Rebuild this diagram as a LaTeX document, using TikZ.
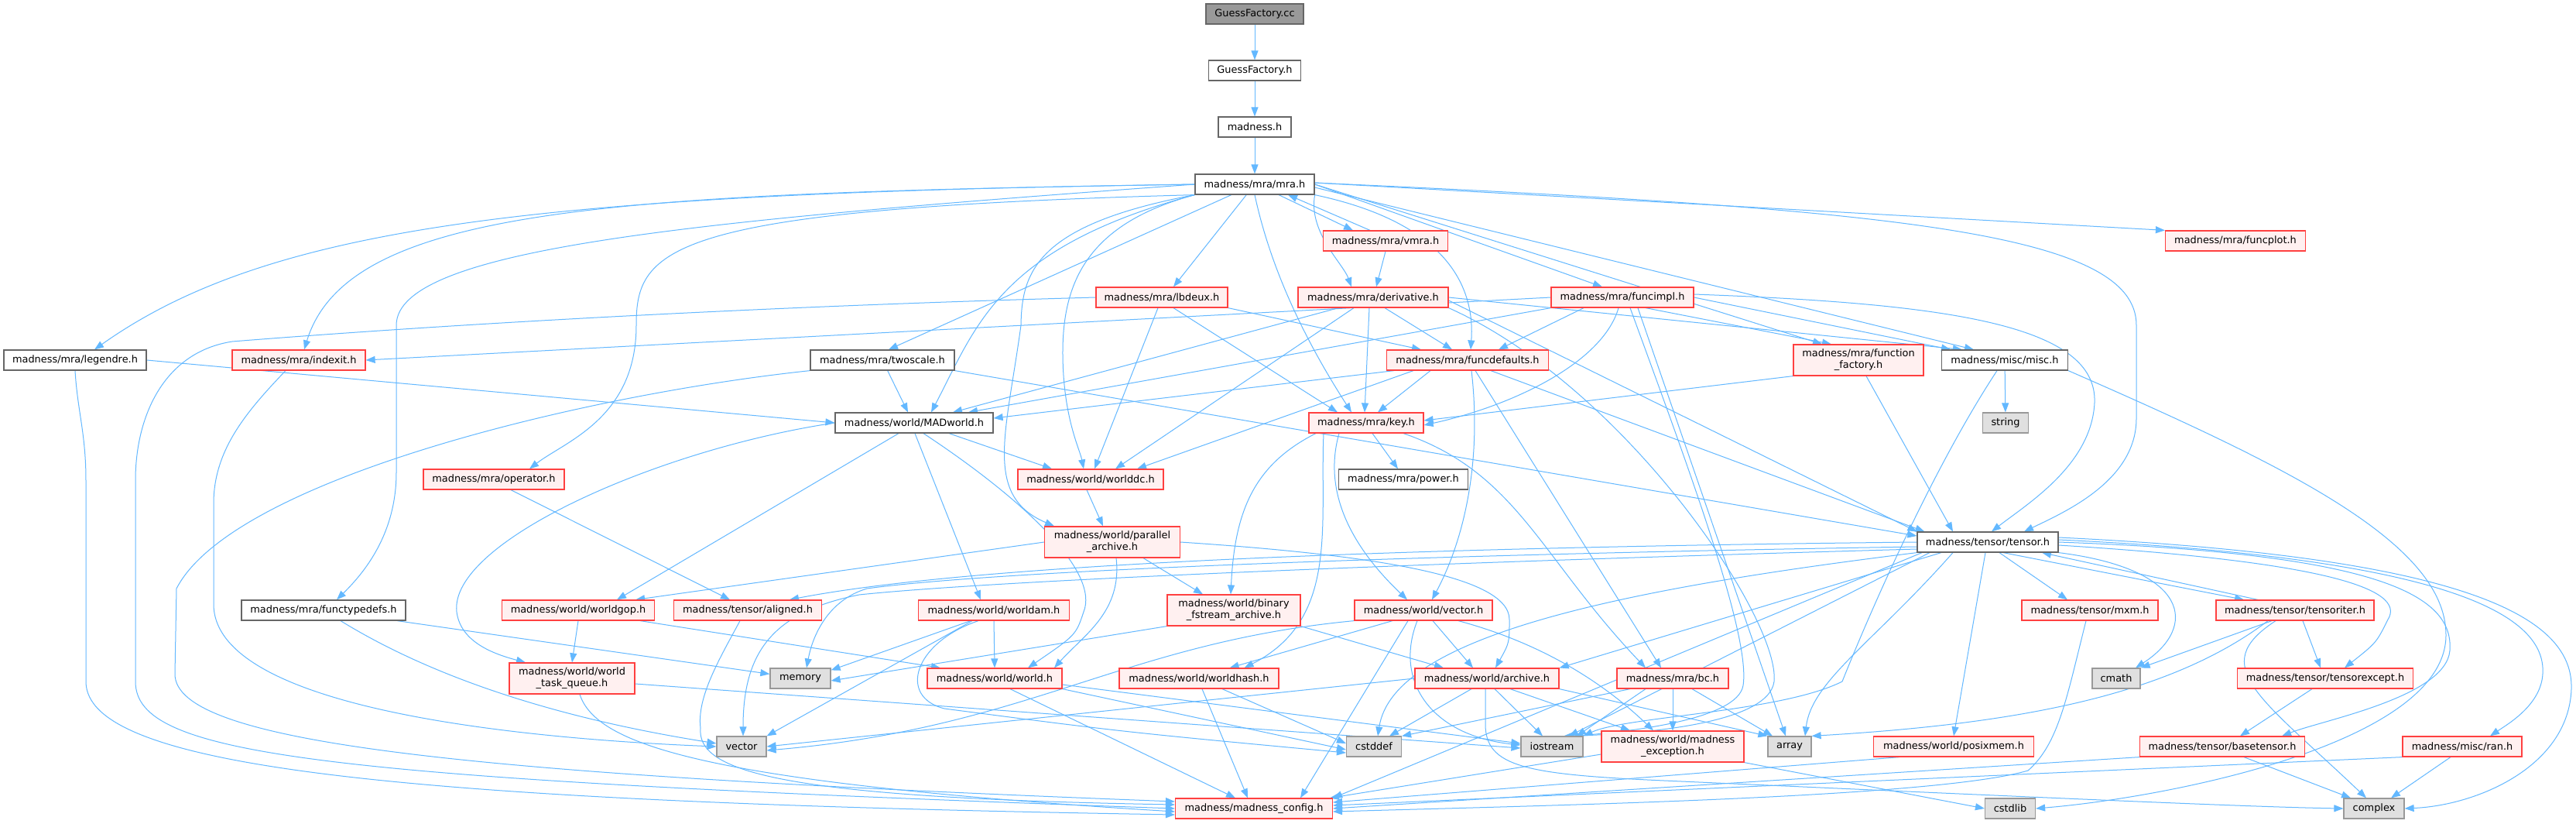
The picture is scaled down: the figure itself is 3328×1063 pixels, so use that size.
\documentclass[tikz,border=0pt]{standalone}
\usepackage{fontspec}
\setmainfont{DejaVu Sans}
\usetikzlibrary{arrows.meta}
\definecolor{ecol}{HTML}{63B8FF}
\definecolor{dred}{HTML}{FF4040}
\definecolor{rfill}{HTML}{FFF0F0}
\definecolor{dgray}{HTML}{666666}
\definecolor{lgray}{HTML}{999999}
\definecolor{gfill}{HTML}{E0E0E0}
\definecolor{rootfill}{HTML}{999999}
\pgfdeclarelayer{bg}
\pgfsetlayers{bg,main}
\newcommand{\nodefont}{\fontsize{12.9pt}{15pt}\selectfont}
\tikzset{
  box/.style={draw, line width=1.2pt, inner sep=0pt, minimum height=26pt, font=\nodefont, align=center},
  rn/.style={box, draw=dred, fill=rfill},
  rn2/.style={rn, minimum height=40pt},
  wn/.style={box, draw=dgray, fill=white},
  gn/.style={box, draw=lgray, fill=gfill},
  root/.style={box, draw=dgray, fill=rootfill},
  e/.style={draw=ecol, line width=1pt, -{Triangle[length=12pt,width=9pt]}},
}
\begin{document}
\begin{tikzpicture}[x=1pt,y=-1pt]
\useasboundingbox (0,0) rectangle (3328,1063);
\begin{pgfonlayer}{bg}
\fill[white] (0,0) rectangle (3328,1063);
\end{pgfonlayer}
% nodes
\node[root, minimum width=126pt] (gcc) at (1621,18) {GuessFactory.cc};
\node[wn, minimum width=119pt] (gfh) at (1621,91) {GuessFactory.h};
\node[wn, minimum width=94pt] (madh) at (1621,164) {madness.h};
\node[wn, minimum width=154pt] (mra) at (1621,238) {madness/mra/mra.h};
\node[rn, minimum width=161pt] (vmra) at (1790,311) {madness/mra/vmra.h};
\node[rn, minimum width=181pt] (funcplot) at (2888,311) {madness/mra/funcplot.h};
\node[rn, minimum width=170pt] (lbdeux) at (1501,384) {madness/mra/lbdeux.h};
\node[rn, minimum width=194pt] (deriv) at (1774,384) {madness/mra/derivative.h};
\node[rn, minimum width=184pt] (funcimpl) at (2096,384) {madness/mra/funcimpl.h};
\node[wn, minimum width=184pt] (legendre) at (97,465) {madness/mra/legendre.h};
\node[rn, minimum width=172pt] (indexit) at (386,465) {madness/mra/indexit.h};
\node[wn, minimum width=186pt] (twoscale) at (1140,465) {madness/mra/twoscale.h};
\node[rn, minimum width=209pt] (funcdef) at (1896,465) {madness/mra/funcdefaults.h};
\node[rn2, minimum width=168pt] (funcfact) at (2401,465) {madness/mra/function\\\_factory.h};
\node[wn, minimum width=163pt] (misc) at (2590,465) {madness/misc/misc.h};
\node[wn, minimum width=204pt] (madworld) at (1181,546) {madness/world/MADworld.h};
\node[rn, minimum width=148pt] (key) at (1765,546) {madness/mra/key.h};
\node[gn, minimum width=59pt] (string) at (2591,546) {string};
\node[rn, minimum width=182pt] (operator) at (638,619) {madness/mra/operator.h};
\node[rn, minimum width=188pt] (worlddc) at (1409,619) {madness/world/worlddc.h};
\node[wn, minimum width=167pt] (power) at (1813,619) {madness/mra/power.h};
\node[rn2, minimum width=175pt] (parallel) at (1437,700) {madness/world/parallel\\\_archive.h};
\node[wn, minimum width=182pt] (tensor) at (2568,700) {madness/tensor/tensor.h};
\node[wn, minimum width=212pt] (functypedefs) at (418,788) {madness/mra/functypedefs.h};
\node[rn, minimum width=197pt] (worldgop) at (747,788) {madness/world/worldgop.h};
\node[rn, minimum width=191pt] (aligned) at (966,788) {madness/tensor/aligned.h};
\node[rn, minimum width=195pt] (worldam) at (1284,788) {madness/world/worldam.h};
\node[rn2, minimum width=172pt] (binfs) at (1594,788) {madness/world/binary\\\_fstream\_archive.h};
\node[rn, minimum width=178pt] (wvector) at (1839,788) {madness/world/vector.h};
\node[rn, minimum width=176pt] (mxm) at (2700,788) {madness/tensor/mxm.h};
\node[rn, minimum width=204pt] (tensoriter) at (2965,788) {madness/tensor/tensoriter.h};
\node[rn2, minimum width=162pt] (wtq) at (739,876) {madness/world/world\\\_task\_queue.h};
\node[gn, minimum width=78pt] (memory) at (1034,876) {memory};
\node[rn, minimum width=174pt] (world) at (1285,876) {madness/world/world.h};
\node[rn, minimum width=206pt] (worldhash) at (1549,876) {madness/world/worldhash.h};
\node[rn, minimum width=186pt] (archive) at (1921,876) {madness/world/archive.h};
\node[rn, minimum width=144pt] (bc) at (2161,876) {madness/mra/bc.h};
\node[gn, minimum width=62pt] (cmath) at (2734,876) {cmath};
\node[rn, minimum width=227pt] (tensorexcept) at (3004,876) {madness/tensor/tensorexcept.h};
\node[gn, minimum width=64pt] (vector) at (958,964) {vector};
\node[gn, minimum width=71pt] (cstddef) at (1775,964) {cstddef};
\node[gn, minimum width=80pt] (iostream) at (2005,964) {iostream};
\node[rn2, minimum width=184pt] (mexc) at (2161,964) {madness/world/madness\\\_exception.h};
\node[gn, minimum width=56pt] (array) at (2312,964) {array};
\node[rn, minimum width=207pt] (posixmem) at (2524,964) {madness/world/posixmem.h};
\node[rn, minimum width=213pt] (basetensor) at (2871,964) {madness/tensor/basetensor.h};
\node[rn, minimum width=154pt] (ran) at (3181,964) {madness/misc/ran.h};
\node[rn, minimum width=203pt] (config) at (1620,1044) {madness/madness\_config.h};
\node[gn, minimum width=65pt] (cstdlib) at (2597,1044) {cstdlib};
\node[gn, minimum width=78pt] (complex) at (3067,1044) {complex};
% edges
\begin{pgfonlayer}{bg}
\draw[e] (gcc) -- (gfh);
\draw[e] (gfh) -- (madh);
\draw[e] (madh) -- (mra);
% mra
\draw[e] ([xshift=31pt]mra.south) -- ([xshift=-42pt]vmra.north);
\draw[e] ([xshift=-20pt]vmra.north) -- ([xshift=43pt]mra.south);
\draw[e] ([yshift=2pt]mra.east) -- (funcplot.north west);
\draw[e] (mra) -- ([xshift=15pt]lbdeux.north);
\draw[e] (mra.south east) .. controls (1690,300) and (1735,340) .. ([xshift=-28pt]deriv.north);
\draw[e] (vmra.south) -- ([xshift=4pt]deriv.north);
\draw[e] (mra.east) -- ([xshift=-26pt]funcimpl.north);
\draw[e] (mra.west) .. controls (700,250) and (350,290) .. ([xshift=25pt]legendre.north);
\draw[e] (mra.west) .. controls (800,250) and (450,265) .. ([xshift=7pt]indexit.north);
\draw[e] (mra) -- ([xshift=8pt]twoscale.north);
\draw[e] (mra.south east) .. controls (1880,290) and (1905,380) .. ([xshift=4pt]funcdef.north);
\draw[e] (mra.east) -- ([xshift=-47pt]funcfact.north);
\draw[e] ([yshift=-4pt]mra.east) -- ([xshift=-40pt]misc.north);
\draw[e] (mra.south west) .. controls (1290,320) and (1262,420) .. ([xshift=22pt]madworld.north);
\draw[e] (mra.south) .. controls (1640,340) and (1680,430) .. ([xshift=-19pt]key.north);
\draw[e] (mra.south west) .. controls (860,270) and (822,320) .. (822,420) .. controls (822,540) and (730,570) .. ([xshift=46pt]operator.north);
\draw[e] (mra.south west) .. controls (1400,290) and (1372,370) .. (1373,460) .. controls (1374,540) and (1395,580) .. ([xshift=-9pt]worlddc.north);
\draw[e] (mra.south west) .. controls (1340,290) and (1320,350) .. (1319,420) .. controls (1300,560) and (1270,640) .. ([xshift=-75pt]parallel.north);
\draw[e] ([yshift=2pt]mra.east) .. controls (2450,270) and (2760,300) .. (2760,420) -- (2760,540) .. controls (2760,620) and (2670,660) .. ([xshift=47pt]tensor.north);
\draw[e] (mra.west) .. controls (900,285) and (512,320) .. (512,420) -- (512,610) .. controls (512,690) and (470,740) .. ([xshift=17pt]functypedefs.north);
% legendre
\draw[e] (legendre.east) -- (madworld.west);
\draw[e] (legendre.south) .. controls (100,530) and (111,560) .. (111,620) -- (111,880) .. controls (111,990) and (500,1035) .. ([yshift=-8pt]config.west);
% indexit
\draw[e] ([xshift=-17pt]indexit.south) .. controls (320,530) and (276,580) .. (276,650) -- (276,780) .. controls (276,920) and (700,955) .. (vector.west);
% twoscale
\draw[e] (twoscale) -- ([xshift=-8pt]madworld.north);
\draw[e] (twoscale.south east) -- ([yshift=8pt]tensor.west);
\draw[e] (twoscale.south west) .. controls (750,510) and (300,620) .. (228,760) -- (226,870) .. controls (225,960) and (600,1000) .. ([yshift=9pt]config.west);
% lbdeux
\draw[e] ([xshift=-5pt]lbdeux.south) -- ([xshift=5pt]worlddc.north);
\draw[e] ([xshift=15pt]lbdeux.south) -- ([xshift=-37pt]key.north);
\draw[e] (lbdeux.south east) -- ([xshift=-60pt]funcdef.north);
\draw[e] (lbdeux.west) .. controls (900,398) and (500,425) .. (300,441) .. controls (210,455) and (175,540) .. (175,620) -- (175,880) .. controls (175,975) and (400,1005) .. (config.west);
% derivative
\draw[e] ([xshift=15pt]deriv.south) -- ([xshift=-20pt]funcdef.north);
\draw[e] ([xshift=-5pt]deriv.south) -- ([xshift=-2pt]key.north);
\draw[e] ([xshift=-45pt]deriv.south) -- ([xshift=50pt]madworld.north);
\draw[e] ([xshift=-25pt]deriv.south) -- ([xshift=32pt]worlddc.north);
\draw[e] (deriv.east) -- ([xshift=-55pt]misc.north);
\draw[e] ([yshift=-4pt]deriv.east) -- (tensor.north west);
\draw[e] (deriv.south east) .. controls (2100,500) and (2300,800) .. (2292,880) .. controls (2285,935) and (2120,948) .. ([xshift=15pt]iostream.north);
% funcimpl
\draw[e] (funcimpl.west) -- (indexit.east);
\draw[e] (funcimpl.south west) -- ([xshift=70pt]madworld.north);
\draw[e] ([xshift=-50pt]funcimpl.south) -- ([xshift=40pt]funcdef.north);
\draw[e] ([xshift=-5pt]funcimpl.south) .. controls (2070,470) and (1950,525) .. ([yshift=-3pt]key.east);
\draw[e] ([xshift=30pt]funcimpl.south) -- ([xshift=-35pt]funcfact.north);
\draw[e] (funcimpl.east) -- ([xshift=-70pt]misc.north);
\draw[e] ([yshift=4pt]funcimpl.east) .. controls (2520,392) and (2710,420) .. (2706,520) .. controls (2702,600) and (2620,650) .. ([xshift=5pt]tensor.north);
\draw[e] ([xshift=10pt]funcimpl.south) .. controls (2180,600) and (2262,820) .. (2252,885) .. controls (2245,930) and (2100,945) .. ([xshift=28pt]iostream.north);
\draw[e] ([xshift=20pt]funcimpl.south) -- ([xshift=-5pt]array.north);
% funcdefaults
\draw[e] ([xshift=-95pt]funcdef.south) -- ([yshift=6pt]madworld.east);
\draw[e] ([xshift=-70pt]funcdef.south) -- ([xshift=60pt]worlddc.north);
\draw[e] ([xshift=-48pt]funcdef.south) -- ([xshift=15pt]key.north);
\draw[e] ([xshift=30pt]funcdef.south) -- ([xshift=10pt]tensor.north west);
\draw[e] ([xshift=10pt]funcdef.south) -- ([xshift=-15pt]bc.north);
\draw[e] ([xshift=5pt]funcdef.south) .. controls (1915,600) and (1890,700) .. ([xshift=11pt]wvector.north);
% function_factory
\draw[e] (funcfact.south west) -- ([yshift=3pt]key.east);
\draw[e] ([xshift=10pt]funcfact.south) -- ([xshift=-45pt]tensor.north);
% misc
\draw[e] (misc) -- (string);
\draw[e] ([xshift=-10pt]misc.south) .. controls (2500,600) and (2420,780) .. (2380,880) .. controls (2300,920) and (2100,925) .. (iostream.north east);
\draw[e] (misc.south east) .. controls (2950,600) and (3160,700) .. (3160,820) .. controls (3160,960) and (2800,1030) .. (cstdlib.east);
% MADworld
\draw[e] ([xshift=45pt]madworld.south) -- ([xshift=-50pt]worlddc.north);
\draw[e] ([xshift=-20pt]madworld.south) -- ([xshift=50pt]worldgop.north);
\draw[e] (madworld.west) .. controls (850,580) and (580,700) .. (590,790) .. controls (595,830) and (640,845) .. ([xshift=-60pt]wtq.north);
\draw[e] ([xshift=1pt]madworld.south) -- ([xshift=-17pt]worldam.north);
\draw[e] ([xshift=12pt]madworld.south) .. controls (1330,650) and (1420,740) .. (1400,790) .. controls (1390,820) .. ([xshift=43pt]world.north);
% key
\draw[e] ([xshift=8pt]key.south) -- ([xshift=-7pt]power.north);
\draw[e] ([xshift=-35pt]key.south) .. controls (1710,630) and (1740,700) .. ([xshift=-21pt]wvector.north);
\draw[e] ([xshift=-55pt]key.south) .. controls (1705,680) and (1730,800) .. ([xshift=-45pt]worldhash.north east);
\draw[e] ([xshift=-65pt]key.south) .. controls (1620,600) and (1595,660) .. ([xshift=-4pt]binfs.north);
\draw[e] ([xshift=48pt]key.south) .. controls (1960,610) and (1990,720) .. ([xshift=-35pt]bc.north);
% operator, worlddc, parallel
\draw[e] ([xshift=22pt]operator.south) -- ([xshift=-23pt]aligned.north);
\draw[e] ([xshift=-5pt]worlddc.south) -- ([xshift=-12pt]parallel.north);
\draw[e] (parallel.west) -- ([xshift=-25pt]worldgop.north east);
\draw[e] ([xshift=40pt]parallel.south) -- ([xshift=-40pt]binfs.north);
\draw[e] ([xshift=5pt]parallel.south) .. controls (1450,790) and (1400,820) .. ([xshift=77pt]world.north);
\draw[e] (parallel.east) .. controls (1750,715) and (1950,740) .. (1950,800) .. controls (1950,830) .. ([xshift=11pt]archive.north);
% tensor
\draw[e] (tensor.west) .. controls (2000,705) and (1300,720) .. ([xshift=54pt]aligned.north);
\draw[e] ([yshift=-6pt]tensor.west) .. controls (1900,715) and (1300,735) .. (1120,760) .. controls (1070,775) and (1050,820) .. ([xshift=8pt]memory.north);
\draw[e] ([yshift=-9pt]tensor.west) .. controls (1900,725) and (1300,748) .. (1110,768) .. controls (1000,790) and (960,840) .. ([xshift=2pt]vector.north);
\draw[e] ([xshift=-60pt]tensor.south) -- (archive.north east);
\draw[e] ([xshift=15pt]tensor.south) -- ([xshift=-29pt]mxm.north);
\draw[e] ([xshift=20pt]tensor.south) -- ([xshift=-66pt]tensoriter.north);
\draw[e] ([xshift=-48pt]tensoriter.north) -- ([xshift=70pt]tensor.south);
\draw[e] (tensor.south east) .. controls (2830,735) and (2840,810) .. ([xshift=25pt]cmath.north);
\draw[e] ([yshift=-4pt]tensor.east) .. controls (3000,725) and (3110,760) .. (3085,800) .. controls (3070,830) .. ([xshift=25pt]tensorexcept.north);
\draw[e] (tensor.east) .. controls (3080,715) and (3170,770) .. (3165,840) .. controls (3160,900) and (3000,930) .. ([xshift=-30pt]basetensor.north east);
\draw[e] ([yshift=3pt]tensor.east) .. controls (3150,720) and (3290,790) .. (3285,870) .. controls (3283,910) and (3240,935) .. ([xshift=36pt]ran.north);
\draw[e] ([yshift=6pt]tensor.east) .. controls (3200,720) and (3325,800) .. (3322,890) .. controls (3318,990) and (3200,1040) .. (complex.east);
\draw[e] ([xshift=-3pt]tensor.south) -- (posixmem.north);
\draw[e] ([xshift=-45pt]tensor.south) .. controls (2420,830) and (2340,880) .. ([xshift=20pt]array.north);
\draw[e] ([xshift=-75pt]tensor.south) -- ([xshift=22pt]iostream.north);
\draw[e] (tensor.south west) .. controls (2100,760) and (1800,820) .. ([xshift=5pt]cstddef.north);
\draw[e] ([xshift=-85pt]tensor.south) -- (config.north east);
% tensoriter
\draw[e] ([xshift=-30pt]tensoriter.south) -- (cmath.north east);
\draw[e] ([xshift=10pt]tensoriter.south) -- ([xshift=-6pt]tensorexcept.north);
\draw[e] ([xshift=-25pt]tensoriter.south) .. controls (2850,860) and (2920,900) .. ([xshift=-10pt]complex.north);
\draw[e] ([xshift=-35pt]tensoriter.south) .. controls (2800,900) and (2600,935) .. (array.north east);
% functypedefs
\draw[e] (functypedefs) -- (memory);
\draw[e] ([xshift=22pt]functypedefs.south) .. controls (600,900) and (800,940) .. ([yshift=4pt]vector.west);
% worldgop
\draw[e] (worldgop.south) -- (wtq.north);
\draw[e] ([xshift=80pt]worldgop.south) -- ([xshift=-70pt]world.north);
% aligned
\draw[e] ([xshift=-10pt]aligned.south) .. controls (930,850) and (900,900) .. (905,940) .. controls (900,995) and (1000,1030) .. ([yshift=5pt]config.west);
% worldam
\draw[e] ([xshift=-30pt]worldam.south) -- ([yshift=-3pt]memory.north east);
\draw[e] (worldam.south) -- (world.north);
\draw[e] ([xshift=-28pt]worldam.south) -- (vector.north east);
\draw[e] ([xshift=-20pt]worldam.south) .. controls (1180,830) and (1160,900) .. (1220,915) .. controls (1450,945) .. ([yshift=-8pt]cstddef.west);
% binary_fstream_archive
\draw[e] (binfs.south west) -- ([yshift=-3pt]memory.east);
\draw[e] (binfs.south east) -- ([xshift=-56pt]archive.north);
% world/vector.h
\draw[e] ([xshift=12pt]wvector.south) -- ([xshift=-18pt]archive.north);
\draw[e] ([xshift=45pt]wvector.south) .. controls (1990,830) and (2070,880) .. ([xshift=-25pt]mexc.north);
\draw[e] ([xshift=-8pt]wvector.south) .. controls (1800,880) and (1850,950) .. ([yshift=2pt]iostream.west);
\draw[e] (wvector.south west) .. controls (1450,830) and (1330,940) .. ([yshift=-5pt]vector.east);
\draw[e] ([xshift=-40pt]wvector.south) -- ([xshift=-64pt]worldhash.north east);
\draw[e] ([xshift=-20pt]wvector.south) -- ([xshift=60pt]config.north);
% mxm
\draw[e] ([xshift=-5pt]mxm.south) .. controls (2670,900) and (2660,960) .. (2620,995) .. controls (2500,1030) and (2000,1040) .. ([yshift=-4pt]config.east);
% world_task_queue
\draw[e] ([xshift=10pt]wtq.south) .. controls (770,960) and (900,1010) .. ([yshift=-4pt]config.west);
\draw[e] ([yshift=-7pt]wtq.east) -- ([yshift=-2pt]iostream.west);
% world
\draw[e] ([xshift=20pt]world.south) -- ([xshift=-24pt]config.north);
\draw[e] ([yshift=-8pt]world.east) -- ([yshift=4pt]iostream.west);
\draw[e] (world.south east) -- ([yshift=-4pt]cstddef.west);
% worldhash
\draw[e] ([xshift=4pt]worldhash.south) -- ([xshift=-8pt]config.north);
\draw[e] ([xshift=30pt]worldhash.south) -- ([yshift=4pt]cstddef.west);
% archive
\draw[e] ([xshift=-20pt]archive.south) -- ([xshift=20pt]cstddef.north);
\draw[e] ([xshift=10pt]archive.south) -- ([xshift=-12pt]iostream.north);
\draw[e] ([xshift=30pt]archive.south) -- ([xshift=-55pt]mexc.north);
\draw[e] (archive.south east) -- (array.north west);
\draw[e] (archive.west) -- (vector.east);
\draw[e] ([xshift=-2pt]archive.south) -- (1919,935) .. controls (1919,990) and (1970,1000) .. (2150,1008) .. controls (2600,1028) and (2900,1042) .. (complex.west);
% bc
\draw[e] ([xshift=-55pt]bc.south) -- (cstddef.north east);
\draw[e] ([xshift=-35pt]bc.south) -- ([xshift=32pt]iostream.north);
\draw[e] (bc.south) -- (mexc.north);
\draw[e] ([xshift=25pt]bc.south) -- ([xshift=-22pt]array.north);
% madness_exception
\draw[e] ([yshift=-10pt]mexc.west) -- ([xshift=-4pt]config.north east);
\draw[e] (mexc.south east) -- (cstdlib.west);
% posixmem, basetensor, tensorexcept, ran
\draw[e] ([xshift=-70pt]posixmem.south) -- ([yshift=8pt]config.east);
\draw[e] ([xshift=28pt]basetensor.south) -- ([xshift=-30pt]complex.north);
\draw[e] (basetensor.south west) -- (config.east);
\draw[e] ([xshift=-17pt]tensorexcept.south) -- ([xshift=23pt]basetensor.north);
\draw[e] ([xshift=-15pt]ran.south) -- ([xshift=22pt]complex.north);
\draw[e] (ran.south west) -- ([yshift=4pt]config.east);
\end{pgfonlayer}
\end{tikzpicture}
\end{document}
